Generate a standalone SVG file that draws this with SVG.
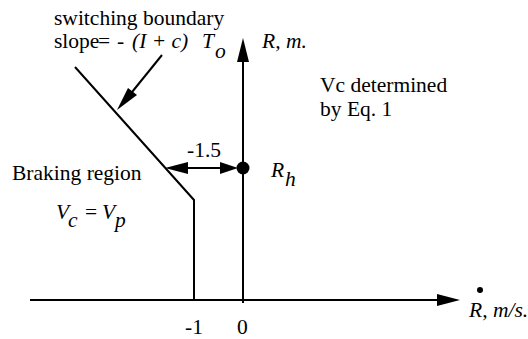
<svg xmlns="http://www.w3.org/2000/svg" width="528" height="339" viewBox="0 0 528 339">
<style>
.i{font-style:italic}
.ln{stroke:#000;stroke-width:2;fill:none}
.ah{fill:#000;stroke:none}
</style>
<rect width="528" height="339" fill="#fff"/>
<g id="connectors">
<line class="ln" x1="30" y1="300" x2="440" y2="300"/>
<polygon class="ah" points="460,300 437,294 437,306"/>
<line class="ln" x1="243" y1="303" x2="243" y2="60"/>
<polygon class="ah" points="243,38 237,62 249,62"/>
<polyline class="ln" points="75,67 194,200 194,300"/>
<line class="ln" x1="162" y1="55" x2="128" y2="97"/>
<polygon class="ah" points="117,110 137,95 128,88"/>
<line class="ln" x1="180" y1="168" x2="225" y2="168"/>
<polygon class="ah" points="165,168 188,162 188,174"/>
<polygon class="ah" points="238,168 220,162 220,174"/>
</g>
<g font-family="Liberation Serif" font-size="21.5" fill="#000">
<g id="node-rh">
<circle cx="243" cy="168" r="6.5" fill="#000"/>
<text x="271" y="177" class="i">R</text><text x="285" y="186" class="i">h</text>
</g>
<g id="labels">
<text x="54" y="25">switching boundary</text>
<text x="54" y="48">slope<tspan x="98">=</tspan><tspan x="117">-</tspan><tspan x="132" class="i">(I + c)</tspan><tspan x="202" class="i">T</tspan><tspan x="215" y="58" class="i">o</tspan></text>
<text x="262" y="48" class="i">R, m.</text>
<text x="320" y="92">Vc determined</text>
<text x="320" y="116">by Eq. 1</text>
<text x="187" y="157">-1.5</text>
<text x="12" y="180">Braking region</text>
<text x="56" y="219" class="i">V</text><text x="68" y="227" class="i">c</text>
<text x="85" y="219">=</text>
<text x="102" y="219" class="i">V</text><text x="115" y="227" class="i">p</text>
<text x="185" y="334">-1</text>
<text x="237" y="334">0</text>
<circle cx="480" cy="290" r="3" fill="#000"/>
<text x="469" y="317" class="i">R, m/s.</text>
</g>
</g>
</svg>
